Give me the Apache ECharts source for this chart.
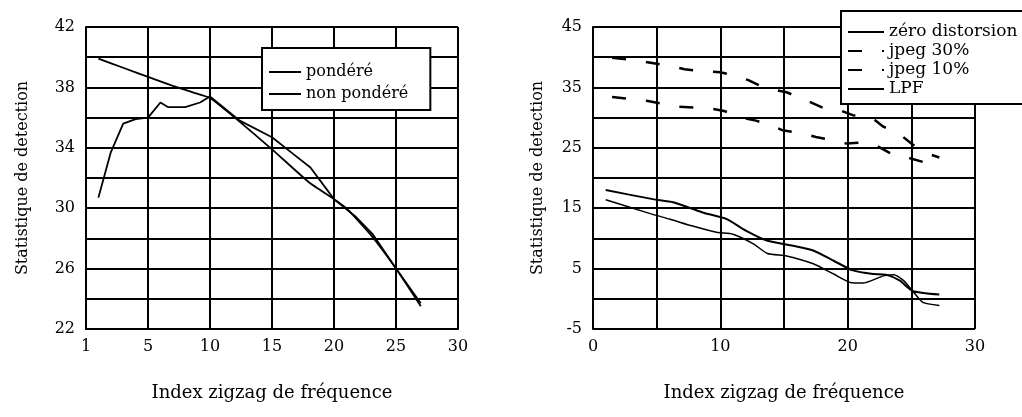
<!DOCTYPE html>
<html>
<head>
<meta charset="utf-8">
<script src="https://cdn.jsdelivr.net/npm/echarts@6/dist/echarts.min.js"></script>
<style>
    html, body { margin: 0; padding: 0; background: #fff; }
    #chart { width: 1022px; height: 417px; }
</style>
</head>
<body>
<div id="chart"></div>
<script>
// left panel
var pondX = [1, 3, 5, 7, 8.5, 10, 12, 15, 18, 20, 21, 23, 25, 27];
var pondY = [39.9, 39.3, 38.7, 38.1, 37.7, 37.3, 36.0, 33.9, 31.7, 30.6, 30.0, 28.2, 26.0, 23.5];
var nonPondX = [1, 2, 3, 4, 5, 6, 6.6, 8, 9.2, 10, 12.4, 15, 16.7, 18.1, 20, 21.8, 23.1, 25, 27];
var nonPondY = [30.7, 33.7, 35.6, 35.9, 36.0, 37.0, 36.7, 36.7, 37.0, 37.4, 35.8, 34.7, 33.6, 32.7, 30.6, 29.4, 28.3, 26.0, 23.7];

// right panel
var zeroX = [1, 4.7, 6.3, 8.6, 10.5, 12, 13.7, 15.7, 17.3, 18.9, 20.4, 22, 23, 24.1, 25.1, 27.2];
var zeroY = [18.0, 16.5, 16.0, 14.3, 13.2, 11.3, 9.6, 8.8, 8.0, 6.3, 4.7, 4.1, 4.0, 3.0, 1.3, 0.7];
var jpeg30X = [1.5, 3.4, 5, 6, 7.2, 8.5, 10, 11, 12.2, 13.4, 15.2, 16.8, 18.2, 19.4, 20.4, 21.9, 22.8, 24, 25, 25.9, 27.2];
var jpeg30Y = [39.9, 39.5, 38.9, 38.6, 38.0, 37.7, 37.5, 37.0, 36.2, 35.0, 34.2, 32.8, 31.5, 31.2, 30.4, 30.0, 28.5, 27.4, 25.7, 24.3, 23.4];
var jpeg10X = [1.5, 4.2, 6.7, 9.2, 10.3, 11.7, 12.8, 14, 14.9, 16.4, 17.5, 18.9, 19.9, 21.3, 22.3, 23.7, 24.7, 26, 27.2];
var jpeg10Y = [33.4, 32.8, 31.8, 31.5, 31.1, 30.0, 29.5, 28.7, 27.9, 27.4, 26.8, 26.2, 25.7, 25.9, 25.3, 23.7, 23.4, 22.6, 21.8];
var lpfX = [1, 4.5, 6, 7.9, 9.7, 11, 12.6, 13.7, 15.2, 17.3, 18.9, 20.2, 21.2, 22.8, 23.6, 24.4, 25.1, 25.9, 27.2];
var lpfY = [16.4, 14.1, 13.2, 12.0, 11.0, 10.7, 9.1, 7.5, 7.1, 5.8, 4.1, 2.7, 2.6, 3.8, 4.0, 3.0, 1.3, -0.6, -1.1];

var xName = 'Index zigzag de fréquence';
var yName = 'Statistique de detection';

function pairs(xs, ys) {
    return xs.map(function (x, i) { return [x, ys[i]]; });
}

var font = 'DejaVu Serif';

function xAxisOpt(grid, fmt) {
    return {
        type: 'value', gridIndex: grid, min: 0, max: 30, interval: 5,
        name: xName, nameLocation: 'middle', nameGap: 55,
        nameTextStyle: { color: '#000', fontFamily: font, fontSize: 18 },
        axisLine: { lineStyle: { color: '#000', width: 2 } },
        axisTick: { show: false },
        splitLine: { lineStyle: { color: '#000', width: 2 } },
        axisLabel: { color: '#000', fontFamily: font, fontSize: 16, margin: 10, formatter: fmt }
    };
}

function yAxisOpt(grid, min, max, step, labelStep, gap) {
    return {
        type: 'value', gridIndex: grid, min: min, max: max, interval: step,
        name: yName, nameLocation: 'middle', nameGap: gap, nameRotate: 90,
        nameTextStyle: { color: '#000', fontFamily: font, fontSize: 16 },
        axisLine: { lineStyle: { color: '#000', width: 2 } },
        axisTick: { show: false },
        splitLine: { lineStyle: { color: '#000', width: 2 } },
        axisLabel: {
            color: '#000', fontFamily: font, fontSize: 16, margin: 11,
            formatter: function (v) { return ((v - min) % labelStep === 0) ? v : ''; }
        }
    };
}

function lineSeries(name, xs, ys, grid, width, dash, smooth) {
    return {
        name: name, type: 'line', xAxisIndex: grid, yAxisIndex: grid,
        data: pairs(xs, ys), symbol: 'none', smooth: smooth || false,
        itemStyle: { color: '#000' },
        lineStyle: { color: '#000', width: width, type: dash || 'solid' }
    };
}

var chart = echarts.init(document.getElementById('chart'));
var option = {
    backgroundColor: '#fff',
    animation: false,
    grid: [
        { left: 86, top: 27, width: 372, height: 302 },
        { left: 593, top: 27, width: 382, height: 302 }
    ],
    legend: [
        {
            data: ['pondéré', 'non pondéré'],
            orient: 'vertical', left: 262, top: 48,
            backgroundColor: '#fff', borderColor: '#000', borderWidth: 2, borderRadius: 0,
            padding: [16, 22, 8, 6], itemGap: 6, itemWidth: 32, itemHeight: 14,
            itemStyle: { opacity: 0 },
            textStyle: { color: '#000', fontFamily: font, fontSize: 16 }
        },
        {
            data: ['zéro distorsion', 'jpeg 30%', 'jpeg 10%', 'LPF'],
            orient: 'vertical', left: 841, top: 11,
            backgroundColor: '#fff', borderColor: '#000', borderWidth: 2, borderRadius: 0,
            padding: [12, 40, 6, 6], itemGap: 1, itemWidth: 36, itemHeight: 18,
            itemStyle: { opacity: 0 },
            textStyle: { color: '#000', fontFamily: font, fontSize: 17, lineHeight: 18 }
        }
    ],
    xAxis: [
        xAxisOpt(0, function (v) { return v === 0 ? '1' : v; }),
        xAxisOpt(1, function (v) { return v % 10 === 0 ? v : ''; })
    ],
    yAxis: [
        yAxisOpt(0, 22, 42, 2, 4, 55),
        yAxisOpt(1, -5, 45, 5, 10, 47)
    ],
    series: [
        lineSeries('pondéré', pondX, pondY, 0, 1.8, null, 0.15),
        lineSeries('non pondéré', nonPondX, nonPondY, 0, 1.8),
        lineSeries('zéro distorsion', zeroX, zeroY, 1, 2, null, 0.2),
        lineSeries('jpeg 30%', jpeg30X, jpeg30Y, 1, 2.5, [14, 20]),
        lineSeries('jpeg 10%', jpeg10X, jpeg10Y, 1, 2.5, [14, 20]),
        lineSeries('LPF', lpfX, lpfY, 1, 1.5, null, 0.2)
    ]
};
chart.setOption(option);
</script>
</body>
</html>
